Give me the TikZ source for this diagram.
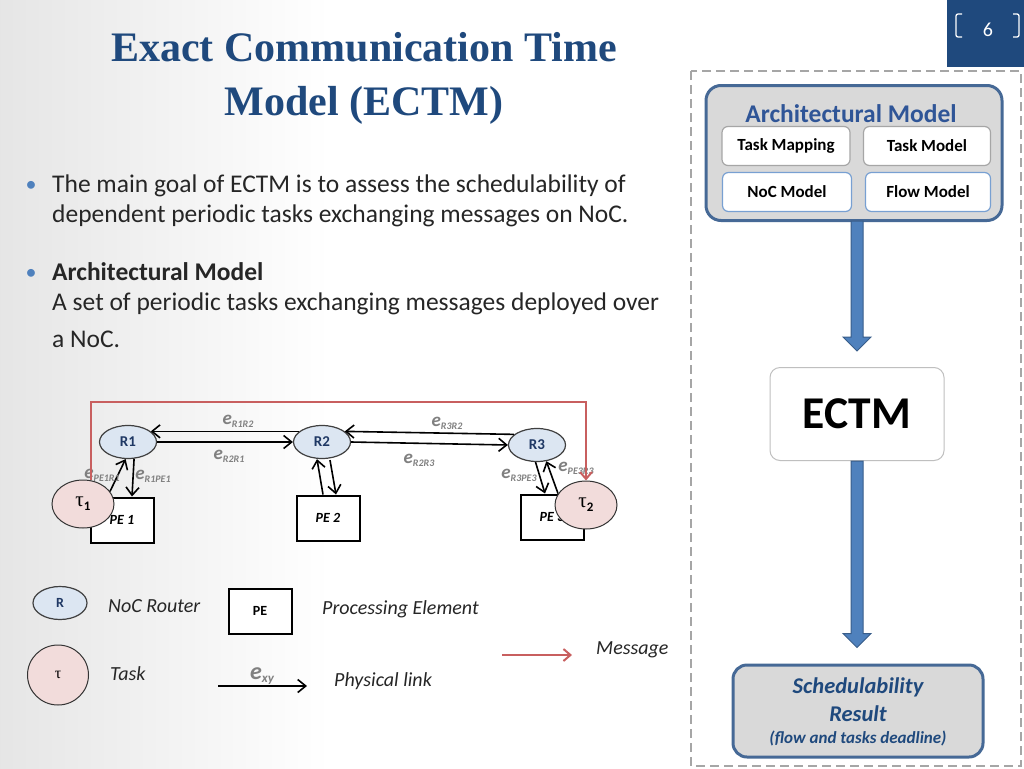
\documentclass[tikz,border=0pt]{standalone}
\usepackage{fontspec}
\setmainfont{Carlito}
\newfontfamily\titlefont{Liberation Serif}
\usetikzlibrary{arrows.meta,calc,shapes.geometric}
\definecolor{titleblue}{RGB}{31,73,125}
\definecolor{textdark}{RGB}{38,38,38}
\definecolor{bulletblue}{RGB}{79,129,189}
\definecolor{archblue}{RGB}{47,85,151}
\definecolor{boxborder}{RGB}{70,105,150}
\definecolor{boxfill}{RGB}{217,217,217}
\definecolor{subgrey}{RGB}{166,166,166}
\definecolor{subblue}{RGB}{120,160,210}
\definecolor{arrowfill}{RGB}{79,129,189}
\definecolor{arrowdraw}{RGB}{56,93,138}
\definecolor{routerfill}{RGB}{220,230,242}
\definecolor{routertext}{RGB}{31,56,100}
\definecolor{taskfill}{RGB}{242,220,219}
\definecolor{egrey}{RGB}{128,128,128}
\definecolor{dashgrey}{RGB}{166,166,166}
\definecolor{msgred}{RGB}{200,95,95}
\newcommand\elab[1]{{\fontsize{19}{19}\selectfont e}\raisebox{-3pt}{\fontsize{10}{10}\selectfont #1}}
\newcommand\tausym[1]{{\titlefont\fontsize{21}{21}\selectfont τ}\raisebox{-4pt}{\bfseries\fontsize{13}{13}\selectfont #1}}
\begin{document}
\begin{tikzpicture}[x=1pt,y=-1pt,
  bodytext/.style={anchor=base west,inner sep=0,text=textdark,font=\fontsize{25.5}{30}\selectfont},
  bul/.style={anchor=base,inner sep=0,text=bulletblue,font=\fontsize{22}{24}\selectfont},
  router/.style={ellipse,draw=black!75,line width=1.2,fill=routerfill,minimum width=57,minimum height=33,inner sep=0,text=routertext,font=\bfseries\fontsize{15}{15}\selectfont},
  pebox/.style={rectangle,draw=black,line width=2,fill=white,minimum width=63,minimum height=45,inner sep=0,font=\bfseries\itshape\fontsize{14}{14}\selectfont},
  taskc/.style={ellipse,draw=black!80,line width=1,fill=taskfill,minimum width=62,minimum height=48,inner sep=0},
  plink/.style={draw=black,line width=1.6,-{Straight Barb[length=8,width=13]}},
  msgline/.style={draw=msgred,line width=2,-{Straight Barb[length=7,width=12]}},
  elab/.style={inner sep=0,text=egrey,font=\bfseries\itshape},
  legtext/.style={inner sep=0,anchor=west,text=textdark,font=\itshape\fontsize{20}{20}\selectfont},
  bigbox/.style={draw=boxborder,line width=3,fill=boxfill,rounded corners=15},
  subbox/.style={draw=#1,line width=1.2,fill=white,rounded corners=6,minimum width=127,minimum height=39,inner sep=0,font=\bfseries\fontsize{17}{17}\selectfont,text=black},
  barrow/.style={fill=arrowfill,draw=arrowdraw,line width=1}
]
\useasboundingbox (0,0) rectangle (1024,768);
\fill[white] (0,0) rectangle (1024,768);
\shade[left color=black!10,right color=white] (0,0) rectangle (330,768);

% page number
\fill[titleblue] (947,0) rectangle (1024,67);
\draw[white,line width=1.3,rounded corners=2] (962,14) -- (956,14) -- (956,37) -- (962,37);
\draw[white,line width=1.3,rounded corners=2] (1013,14) -- (1019,14) -- (1019,37) -- (1013,37);
\node[text=white,font=\fontsize{20}{20}\selectfont,inner sep=0] (pnum) at (988,30) {6};

% title
\node[anchor=base,inner sep=0,text=titleblue,font=\titlefont\bfseries\fontsize{42}{42}\selectfont] (title1) at (364,61) {Exact Communication Time};
\node[anchor=base,inner sep=0,text=titleblue,font=\titlefont\bfseries\fontsize{42}{42}\selectfont] (title2) at (364,115) {Model (ECTM)};

% bullets
\node[bul] (b1) at (31,191) {•};
\node[bodytext] (t1) at (52,192) {The main goal of ECTM is to assess the schedulability of};
\node[bodytext] (t2) at (52,222) {dependent periodic tasks exchanging messages on NoC.};
\node[bul] (b2) at (31,279) {•};
\node[bodytext,font=\bfseries\fontsize{25.5}{30}\selectfont] (t3) at (52,280) {Architectural Model};
\node[bodytext] (t4) at (52,310) {A set of periodic tasks exchanging messages deployed over};
\node[bodytext] (t5) at (52,347) {a NoC.};

% NoC diagram
\node[pebox] (PE1) at (122,520) {PE 1};
\node[pebox] (PE2) at (328,518) {PE 2};
\node[pebox] (PE3) at (552,517) {PE 3};
\node[router] (R1) at (128,442) {R1};
\node[router] (R2) at (322,442) {R2};
\node[router] (R3) at (537,445) {R3};
\node[taskc] (tau1) at (83,504) {\tausym{1}};
\node[taskc] (tau2) at (586,505) {\tausym{2}};

\draw[plink] (R2.155) -- (R1.25);
\draw[plink] (R1.east) -- (R2.west);
\draw[plink] (R3.155) -- (R2.25);
\draw[plink] (R2.east) -- (R3.west);
\draw[plink] (tau1.25) -- (R1.262);
\draw[plink] (R1.290) -- ($(PE1.north)+(10,0)$);
\draw[plink] ($(PE2.north)+(-5,0)$) -- ($(R2.south)+(-5,0)$);
\draw[plink] ($(R2.south)+(8,1)$) -- ($(PE2.north)+(8,0)$);
\draw[plink] (R3.265) -- ($(PE3.north)+(-7,0)$);
\draw[plink] ($(PE3.north)+(6,0)$) -- (R3.300);

\node[elab] (l1) at (238,421) {\elab{R1R2}};
\node[elab] (l2) at (229,456) {\elab{R2R1}};
\node[elab] (l3) at (447,423) {\elab{R3R2}};
\node[elab] (l4) at (419,460) {\elab{R2R3}};
\node[elab] (l5) at (102,475) {\elab{PE1R1}};
\node[elab] (l6) at (153,476) {\elab{R1PE1}};
\node[elab] (l7) at (519,475) {\elab{R3PE3}};
\node[elab] (l8) at (576,468) {\elab{PE3R3}};

\coordinate (msgtop) at (330,402);
\draw[msgline] (tau1.72) |- (msgtop) -| (tau2.north);

% legend
\node[router,minimum width=54,font=\bfseries\fontsize{14}{14}\selectfont] (legR) at (60,603) {R};
\node[legtext] (legRt) at (108,606) {NoC Router};
\node[pebox,font=\bfseries\fontsize{14}{14}\selectfont] (legPE) at (260,611) {PE};
\node[legtext] (legPEt) at (322,609) {Processing Element};
\node[taskc,minimum width=61,minimum height=60] (legtau) at (58,675) {{\titlefont\fontsize{16}{16}\selectfont τ}};
\node[legtext] (legtaut) at (110,674) {Task};
\coordinate (lnkA) at (218,686);
\coordinate (lnkB) at (307,686);
\draw[plink] (lnkA) -- (lnkB);
\node[elab] (legexy) at (262,676) {{\fontsize{24}{24}\selectfont e}\raisebox{-3pt}{\fontsize{13}{13}\selectfont xy}};
\node[legtext] (legl) at (334,681) {Physical link};
\coordinate (msgA) at (502,655);
\coordinate (msgB) at (572,655);
\draw[msgline] (msgA) -- (msgB);
\node[legtext] (legm) at (596,650) {Message};

% right flow
\draw[dashgrey,line width=2,dash pattern=on 9 off 5] (691,71) rectangle (1021,766);
\node[bigbox,minimum width=296,minimum height=135,inner sep=0] (arch) at (854,153) {};
\node[inner sep=0,text=archblue,font=\bfseries\fontsize{25.5}{25.5}\selectfont] (archt) at (851,114) {Architectural Model};
\node[subbox=subgrey,minimum width=128] (tm) at (786,146) {Task Mapping};
\node[subbox=subgrey] (tmo) at (927,146) {Task Model};
\node[subbox=subblue,minimum width=129] (noc) at (787,192) {NoC Model};
\node[subbox=subblue,minimum width=125] (flow) at (928,192) {Flow Model};

\node[draw=black!25,line width=1,fill=white,rounded corners=10,minimum width=174,minimum height=93,inner sep=0,font=\bfseries\fontsize{45.5}{45.5}\selectfont] (ectm) at (857,414) {ECTM};

\node[bigbox,minimum width=250,minimum height=92,inner sep=0,rounded corners=14] (sched) at (858,711) {};
\node[inner sep=0,text=titleblue,font=\bfseries\itshape\fontsize{22.5}{22.5}\selectfont] (s1) at (858,687) {Schedulability};
\node[inner sep=0,text=titleblue,font=\bfseries\itshape\fontsize{22.5}{22.5}\selectfont] (s2) at (858,714) {Result};
\node[inner sep=0,text=titleblue,font=\bfseries\itshape\fontsize{17}{17}\selectfont] (s3) at (858,738) {(flow and tasks deadline)};

\draw[barrow] let \p1=(arch.south), \p2=(ectm.north) in
  (\x2-6pt,\y1+1pt) -- (\x2-6pt,\y2+30pt) -- (\x2-14pt,\y2+30pt) -- (\x2,\y2+16pt) -- (\x2+14pt,\y2+30pt) -- (\x2+6pt,\y2+30pt) -- (\x2+6pt,\y1+1pt) -- cycle;
\draw[barrow] let \p1=(ectm.south), \p2=(sched.north) in
  (\x1-6pt,\y1) -- (\x1-6pt,\y2+30pt) -- (\x1-14pt,\y2+30pt) -- (\x1,\y2+16pt) -- (\x1+14pt,\y2+30pt) -- (\x1+6pt,\y2+30pt) -- (\x1+6pt,\y1) -- cycle;
\end{tikzpicture}
\end{document}
